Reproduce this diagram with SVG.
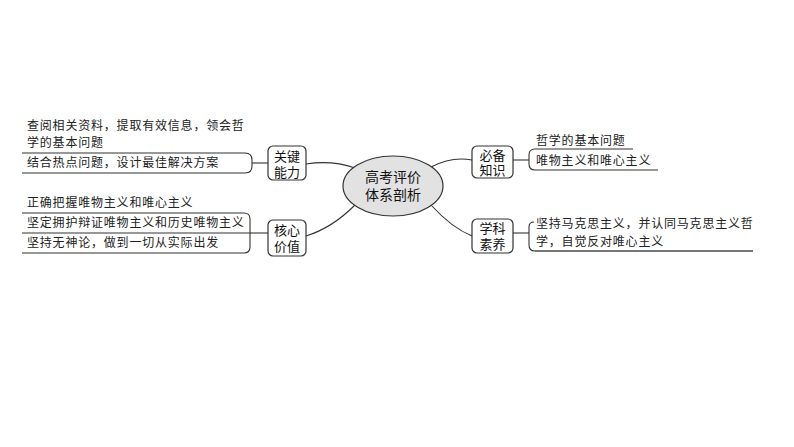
<svg xmlns="http://www.w3.org/2000/svg" width="794" height="447" viewBox="0 0 794 447">
<style>
.t{font-family:"Noto Sans CJK SC","Noto Sans",sans-serif;font-size:12px;fill:#222;letter-spacing:0.8px}
.n{font-family:"Noto Sans CJK SC","Noto Sans",sans-serif;font-size:13px;fill:#111;text-anchor:middle}
.c{font-family:"Noto Sans CJK SC","Noto Sans",sans-serif;font-size:14px;fill:#111;text-anchor:middle}
.box{fill:#fff;stroke:#333;stroke-width:1.2}
.ln{fill:none;stroke:#333;stroke-width:1.1}
</style>
<rect width="794" height="447" fill="#fff"/>
<g id="connectors">
<path class="ln" d="M306,164 Q332,160 355,168"/>
<path class="ln" d="M306,236 Q332,228 355,205"/>
<path class="ln" d="M431,167 Q452,156 472,160"/>
<path class="ln" d="M431,205 Q452,228 472,236"/>
<path class="ln" d="M252,163 H268"/>
<path class="ln" d="M250,233 H268"/>
<path class="ln" d="M513,160 H529"/>
<path class="ln" d="M513,233 H529"/>
</g>
<g id="center">
<ellipse cx="393" cy="186" rx="50" ry="30" fill="#e2e2e2" stroke="#333" stroke-width="1.2"/>
<text class="c" x="393" y="182">高考评价<tspan x="393" y="200">体系剖析</tspan></text>
</g>
<g id="node-guanjian">
<rect class="box" x="268" y="146" width="38" height="34" rx="5"/>
<text class="n" x="287" y="161">关键<tspan x="287" y="176.5">能力</tspan></text>
</g>
<g id="node-hexin">
<rect class="box" x="268" y="220" width="38" height="36" rx="5"/>
<text class="n" x="287" y="235">核心<tspan x="287" y="251">价值</tspan></text>
</g>
<g id="node-bibei">
<rect class="box" x="472" y="146" width="41" height="32" rx="5"/>
<text class="n" x="492.5" y="159.5">必备<tspan x="492.5" y="174.5">知识</tspan></text>
</g>
<g id="node-xueke">
<rect class="box" x="472" y="219" width="41" height="34" rx="5"/>
<text class="n" x="492.5" y="233">学科<tspan x="492.5" y="249">素养</tspan></text>
</g>
<g id="group-guanjian">
<path class="ln" d="M22,153 H245 Q252,153 252,160 V166 Q252,173 245,173 H22"/>
<text class="t" x="27" y="130">查阅相关资料，提取有效信息，领会哲<tspan x="27" y="147">学的基本问题</tspan></text>
<text class="t" x="27" y="167">结合热点问题，设计最佳解决方案</text>
</g>
<g id="group-hexin">
<path class="ln" d="M22,213 H244 Q250,213 250,219 V247 Q250,253 244,253 H22"/>
<path class="ln" d="M22,233 H250"/>
<text class="t" x="27" y="207">正确把握唯物主义和唯心主义</text>
<text class="t" x="27" y="227">坚定拥护辩证唯物主义和历史唯物主义</text>
<text class="t" x="27" y="247">坚持无神论，做到一切从实际出发</text>
</g>
<g id="group-bibei">
<path class="ln" d="M633,149 H535 Q529,149 529,155 V164 Q529,170 535,170 H658"/>
<text class="t" x="536" y="145">哲学的基本问题</text>
<text class="t" x="536" y="165">唯物主义和唯心主义</text>
</g>
<g id="group-xueke">
<path class="ln" d="M534,222 Q529,222 529,227 V245 Q529,251 535,251 H753"/>
<path d="M535,251 H753" fill="none" stroke="#777" stroke-width="1.8"/>
<text class="t" x="536" y="228">坚持马克思主义，并认同马克思主义哲<tspan x="536" y="246">学，自觉反对唯心主义</tspan></text>
</g>
</svg>
